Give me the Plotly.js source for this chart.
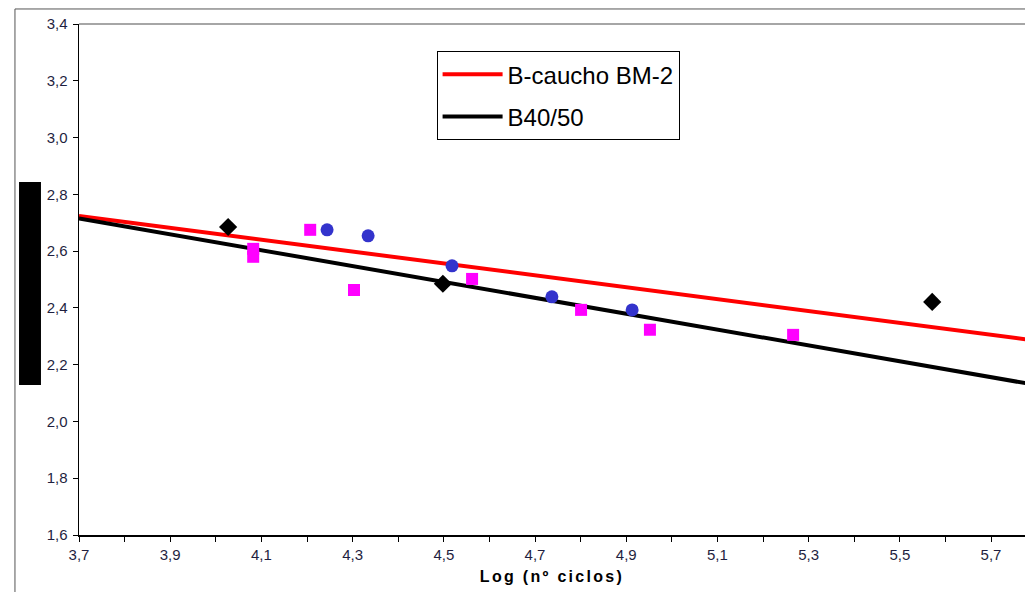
<!DOCTYPE html>
<html>
<head>
<meta charset="utf-8">
<script src="https://cdn.plot.ly/plotly-3.0.1.min.js"></script>
<style>html,body{margin:0;padding:0;background:#fff;overflow:hidden;}#chart{width:1025px;height:592px;}</style>
</head>
<body>
<div id="chart"></div>
<script>
// Regression lines (endpoints)
const lineX = [3.7, 5.8];
const redLineY = [2.724, 2.2845];
const blackLineY = [2.715, 2.128];
const seriesNames = ["B-caucho BM-2", "B40/50"];

// Data points
const diamondX = [4.027, 4.498, 5.571];
const diamondY = [2.685, 2.485, 2.421];
const squareX = [4.082, 4.082, 4.207, 4.303, 4.562, 4.801, 4.952, 5.266];
const squareY = [2.608, 2.580, 2.675, 2.463, 2.502, 2.393, 2.323, 2.305];
const circleX = [4.244, 4.334, 4.518, 4.737, 4.913];
const circleY = [2.675, 2.654, 2.548, 2.439, 2.393];

const xTitle = "Log (nº ciclos)";

const traces = [
  {x: lineX, y: redLineY, mode: "lines", name: seriesNames[0], line: {color: "#ff0000", width: 4}, legendgroup: "a"},
  {x: lineX, y: blackLineY, mode: "lines", name: seriesNames[1], line: {color: "#000000", width: 4}, legendgroup: "b"},
  {x: squareX, y: squareY, mode: "markers", showlegend: false, marker: {symbol: "square", color: "#ff00ff", size: 12}},
  {x: circleX, y: circleY, mode: "markers", showlegend: false, marker: {symbol: "circle", color: "#3333cc", size: 13}},
  {x: diamondX, y: diamondY, mode: "markers", showlegend: false, marker: {symbol: "diamond", color: "#000000", size: 14}}
];

const tickFont = {family: "Liberation Sans, Arial, sans-serif", size: 15, color: "#1f1f3f"};

const layout = {
  width: 1025, height: 592,
  margin: {l: 79, r: 0, t: 24, b: 57},
  paper_bgcolor: "#ffffff", plot_bgcolor: "#ffffff",
  separators: ", ",
  showlegend: true,
  xaxis: {
    range: [3.7, 5.7745], tick0: 3.7, dtick: 0.2, tickformat: ".1f",
    ticks: "outside", ticklen: 5, tickcolor: "#000", showgrid: false, zeroline: false,
    showline: true, linecolor: "#000", linewidth: 1.5,
    minor: {dtick: 0.1, tick0: 3.7, ticks: "outside", ticklen: 5, tickcolor: "#000", showgrid: false},
    tickfont: tickFont,
    title: {text: xTitle, font: {family: "Liberation Sans, Arial, sans-serif", size: 16, color: "#000", weight: "bold"}, standoff: 9}
  },
  yaxis: {
    range: [1.6, 3.4], tick0: 1.6, dtick: 0.2, tickformat: ".1f",
    ticks: "outside", ticklen: 5, tickcolor: "#000", showgrid: false, zeroline: false,
    showline: true, linecolor: "#000", linewidth: 1.5,
    tickfont: tickFont, ticklabelstandoff: 2
  },
  legend: {
    x: 0.378, y: 0.947, xanchor: "left", yanchor: "top",
    bgcolor: "#ffffff", bordercolor: "#000", borderwidth: 1,
    font: {family: "Liberation Sans, Arial, sans-serif", size: 24, color: "#000"},
    traceorder: "grouped", tracegroupgap: 8, itemwidth: 60
  },
  shapes: [
    {type: "rect", xref: "paper", yref: "paper", x0: -0.0677, x1: 1.2, y0: -0.3, y1: 1.0294, line: {color: "#555", width: 1}, fillcolor: "rgba(0,0,0,0)", layer: "below"},
    {type: "line", xref: "paper", yref: "paper", x0: 0, x1: 1.01, y0: 1, y1: 1, line: {color: "#888", width: 1.5}},
    {type: "rect", xref: "paper", yref: "paper", x0: -0.0634, x1: -0.0402, y0: 0.2935, y1: 0.6908, line: {width: 0}, fillcolor: "#000"}
  ]
};

Plotly.newPlot("chart", traces, layout, {displayModeBar: false, staticPlot: true}).then(function () {
  const t = document.querySelector(".xtitle");
  if (t) t.style.letterSpacing = "2.3px";
});
</script>
</body>
</html>
